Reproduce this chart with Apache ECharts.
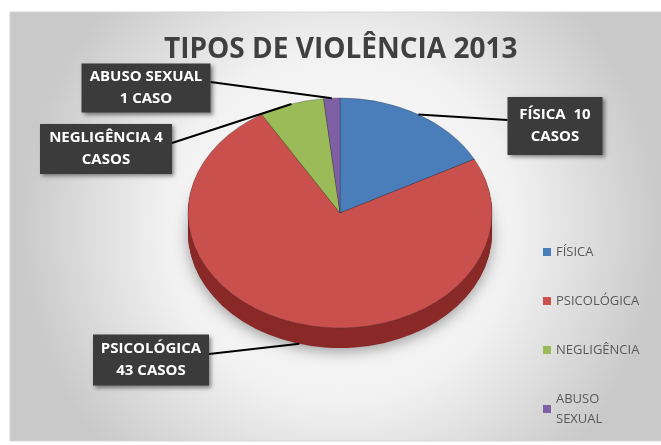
<!DOCTYPE html>
<html>
<head>
<meta charset="utf-8">
<script src="https://cdn.jsdelivr.net/npm/echarts@6/dist/echarts.min.js"></script>
<style>
html, body { margin: 0; padding: 0; background: #fff; }
#chart { width: 661px; height: 445px; }
</style>
</head>
<body>
<div id="chart"></div>
<script>
// dados
const categories = ["FÍSICA", "PSICOLÓGICA", "NEGLIGÊNCIA", "ABUSO SEXUAL"];
const cases = [10, 43, 4, 1];
const labelTexts = ["FÍSICA  10\nCASOS", "PSICOLÓGICA\n43 CASOS", "NEGLIGÊNCIA 4\nCASOS", "ABUSO SEXUAL\n1 CASO"];

// estilo
const colors = ["#4a7ebb", "#c9504d", "#9bbb59", "#7f60a5"];
const sideColors = ["#2f5687", "#8a2a28", "#6b8a35", "#5a3f7d"];
// caixas dos rótulos: [centroX, centroY, largura, altura]
const labelBoxes = [[555, 126, 95, 58], [151, 360, 116, 51], [106, 149, 132, 50], [146, 88, 129, 49]];
const pie = { cx: 340, cy: 213, rx: 152, ry: 115, depth: 20 };

const total = cases.reduce((a, b) => a + b, 0);

function renderSlice(i) {
  return function (params, api) {
    const before = cases.slice(0, i).reduce((a, b) => a + b, 0);
    const value = api.value(0);
    const a0 = before / total * Math.PI * 2;
    const a1 = (before + value) / total * Math.PI * 2;
    const sector = (dy, fill, z2, extra) => ({
      type: "sector",
      x: pie.cx,
      y: pie.cy + dy,
      scaleY: pie.ry / pie.rx,
      z2: z2,
      shape: { cx: 0, cy: 0, r: pie.rx, r0: 0, startAngle: a0 - Math.PI / 2, endAngle: a1 - Math.PI / 2, clockwise: true },
      style: Object.assign({ fill: fill }, extra || {})
    });
    const children = [];
    // lateral (3D)
    children.push(sector(pie.depth, sideColors[i], 1, { shadowBlur: 14, shadowColor: "rgba(0,0,0,0.35)", shadowOffsetY: 4 }));
    for (let d = pie.depth - 1; d > 0; d--) {
      children.push(sector(d, sideColors[i], 2));
    }
    // topo
    children.push(sector(0, colors[i], 10, { stroke: "rgba(40,40,40,0.45)", lineWidth: 0.8, strokeNoScale: true }));

    // linha do rótulo
    const mid = (a0 + a1) / 2;
    let px = pie.cx + pie.rx * Math.sin(mid);
    let py = pie.cy - pie.ry * Math.cos(mid);
    if (Math.cos(mid) < 0) py += pie.depth;
    const box = labelBoxes[i];
    const bx = px > box[0] ? box[0] + box[2] / 2 : box[0] - box[2] / 2;
    const by = box[1] - 6;
    children.push({
      type: "polyline", z2: 30,
      shape: { points: [[px, py], [bx, by]] },
      style: { stroke: "#000", lineWidth: 2, fill: null }
    });
    children.push({
      type: "rect", z2: 40,
      shape: { x: box[0] - box[2] / 2, y: box[1] - box[3] / 2, width: box[2], height: box[3] },
      style: { fill: "#3b3b3b", shadowBlur: 4, shadowColor: "rgba(0,0,0,0.45)", shadowOffsetX: 2, shadowOffsetY: 2 }
    });
    children.push({
      type: "text", z2: 50,
      x: box[0], y: box[1],
      style: {
        text: labelTexts[i], fill: "#fff",
        font: 'bold 15px "Open Sans"',
        align: "center", verticalAlign: "middle", lineHeight: 22
      }
    });
    return { type: "group", children: children };
  };
}

const chart = echarts.init(document.getElementById("chart"));
chart.setOption({
  animation: false,
  color: colors,
  graphic: [{
    type: "rect", z: -10, silent: true,
    shape: { x: 10, y: 12, width: 660, height: 429 },
    style: {
      fill: new echarts.graphic.RadialGradient(0.5, 0.5, 0.75, [
        { offset: 0, color: "#ffffff" },
        { offset: 0.55, color: "#f1f1f1" },
        { offset: 1, color: "#c9c9c9" }
      ]),
      stroke: "#d6d6d6", lineWidth: 1
    }
  }],
  title: {
    text: "TIPOS DE VIOLÊNCIA 2013",
    left: 159, top: 31,
    textStyle: { fontFamily: "Open Sans", fontWeight: "bold", fontSize: 28, color: "#404040" }
  },
  legend: {
    orient: "vertical",
    left: 538, top: 237,
    itemWidth: 8, itemHeight: 8, itemGap: 29,
    icon: "rect",
    data: categories,
    formatter: (name) => name.replace(" ", "\n"),
    textStyle: { fontFamily: "Open Sans", fontSize: 13, color: "#595959", lineHeight: 20 }
  },
  series: categories.map((name, i) => ({
    type: "custom",
    name: name,
    coordinateSystem: "none",
    itemStyle: { color: colors[i] },
    renderItem: renderSlice(i),
    data: [[cases[i]]]
  }))
});
</script>
</body>
</html>
